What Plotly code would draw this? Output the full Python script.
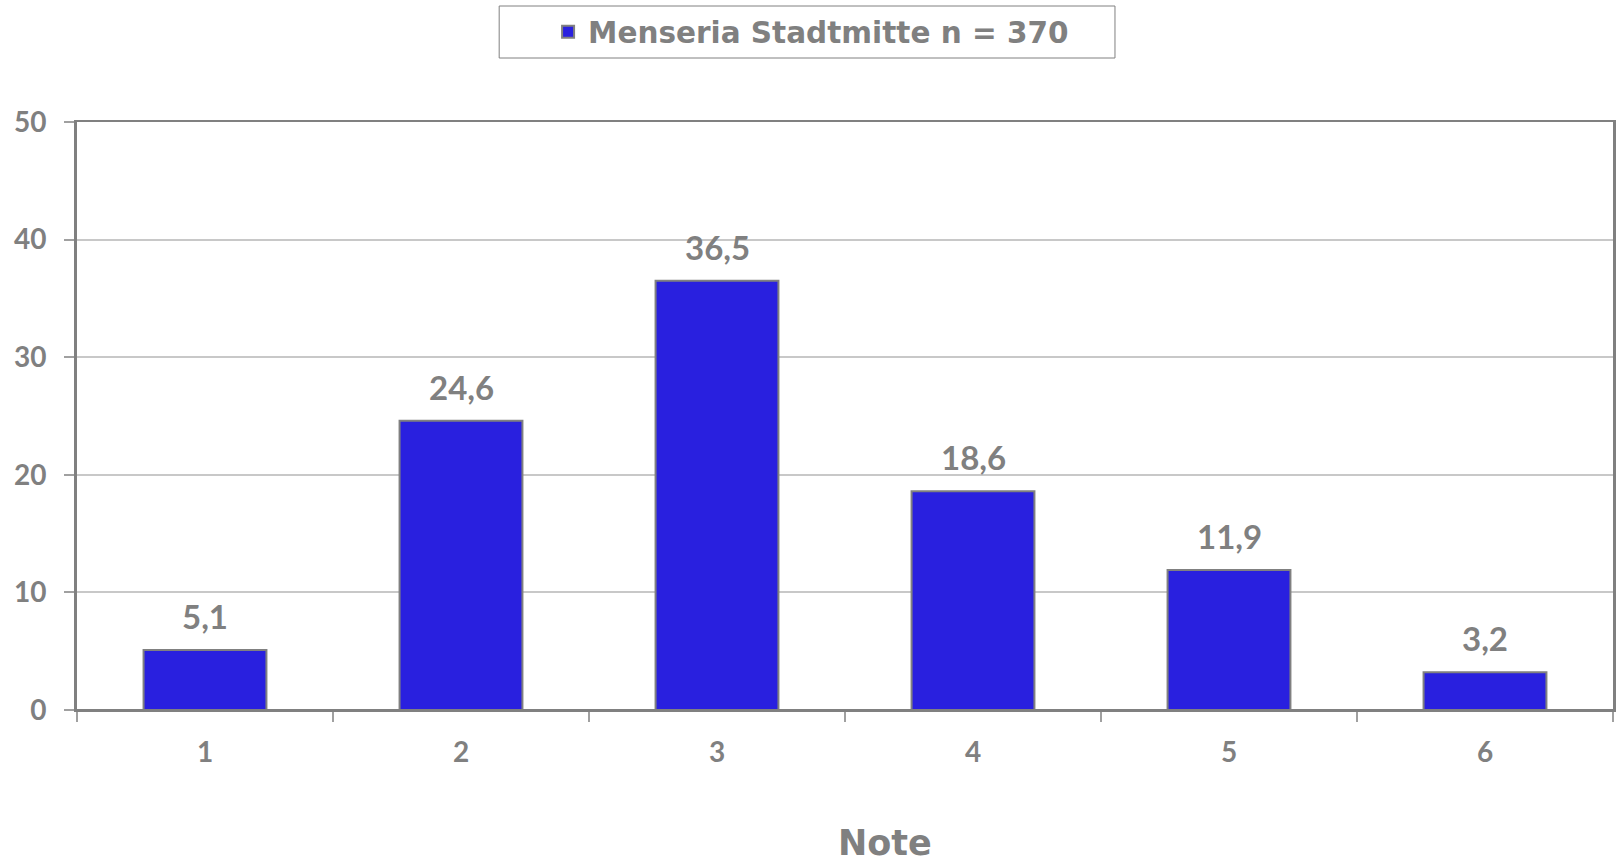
import plotly.graph_objects as go

# Grade distribution (percent of respondents per grade)
grades = ["1", "2", "3", "4", "5", "6"]
shares = [5.1, 24.6, 36.5, 18.6, 11.9, 3.2]
series_name = "Menseria Stadtmitte n = 370"
y_ticks = [0, 10, 20, 30, 40, 50]
x_title = "Note"

W, H = 1618, 867
ML, MR, MT, MB = 77, 2, 122, 157
PW = W - ML - MR
PH = H - MT - MB

GRAY = "#808080"
BAR = "#2920DF"


def px_x(p):
    return (p - ML) / PW


def px_y(p):
    return (H - MB - p) / PH


fig = go.Figure()
fig.add_trace(go.Bar(
    x=grades,
    y=shares,
    name=series_name,
    marker=dict(color=BAR, line=dict(color=GRAY, width=2)),
    showlegend=True,
))

# value labels above each bar, in German decimal notation
for i, v in enumerate(shares):
    fig.add_annotation(
        x=i, y=v, xref="x", yref="y",
        text=f"{v:.1f}".replace(".", ","),
        showarrow=False, yanchor="bottom", yshift=12,
        font=dict(family="Lato", size=33, color=GRAY, weight="bold"),
    )

# axis title
fig.add_annotation(
    x=px_x(887), y=px_y(843), xref="paper", yref="paper",
    text=x_title, showarrow=False, xanchor="center", yanchor="middle",
    font=dict(family="DejaVu Sans", size=35, color=GRAY, weight="bold"),
)

# legend frame
fig.add_shape(
    type="rect", xref="paper", yref="paper",
    x0=px_x(500), x1=px_x(1117), y0=px_y(58), y1=px_y(6),
    line=dict(color=GRAY, width=1), fillcolor="white", layer="below",
)

fig.update_layout(
    width=W, height=H,
    margin=dict(l=ML, r=MR, t=MT, b=MB),
    paper_bgcolor="white", plot_bgcolor="white",
    bargap=0.52,
    legend=dict(
        orientation="h", x=px_x(549), y=px_y(32),
        xanchor="left", yanchor="middle",
        bgcolor="rgba(0,0,0,0)", borderwidth=0,
        font=dict(family="DejaVu Sans", size=29.5, color=GRAY, weight="bold"),
    ),
    xaxis=dict(
        type="category", range=[-0.5, 5.5],
        showline=True, linecolor=GRAY, linewidth=2, mirror=True,
        ticks="outside", tickson="boundaries", ticklen=10, tickcolor="#A0A0A0", tickwidth=2,
        ticklabelstandoff=16,
        tickfont=dict(family="Lato", size=28, color=GRAY, weight="bold"),
        showgrid=False,
    ),
    yaxis=dict(
        range=[0, 50], tickvals=y_ticks,
        showline=True, linecolor=GRAY, linewidth=3, mirror=True,
        ticks="outside", ticklen=10, tickcolor="#A0A0A0", tickwidth=2,
        ticklabelstandoff=12,
        tickfont=dict(family="Lato", size=28, color=GRAY, weight="bold"),
        showgrid=True, gridcolor="#C8C8C8", gridwidth=2,
        zeroline=True, zerolinecolor=GRAY, zerolinewidth=2,
    ),
)

fig.write_html("out.html")
